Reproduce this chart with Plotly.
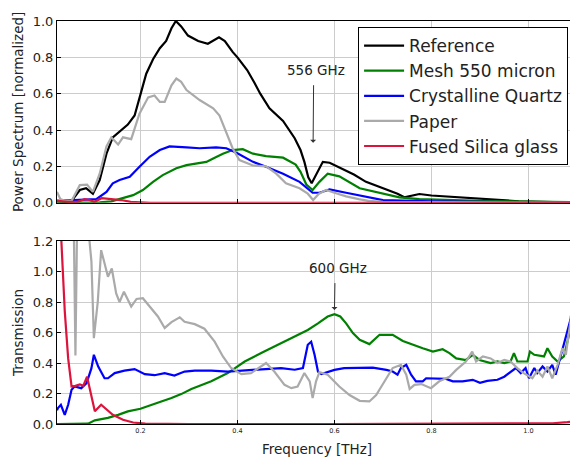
import plotly.graph_objects as go

# ---------------- Top panel: power spectra ----------------
ref_f = [0.028,0.045,0.058,0.075,0.088,0.102,0.116,0.13,0.143,0.157,0.174,0.188,0.198,0.212,0.226,0.24,0.253,0.264,0.273,0.284,0.298,0.319,0.339,0.35,0.362,0.374,0.39,0.40,0.42,0.435,0.447,0.466,0.494,0.518,0.53,0.538,0.546,0.553,0.566,0.576,0.59,0.61,0.64,0.665,0.69,0.713,0.73,0.744,0.76,0.775,0.8,0.85,0.9,0.95,0.98,1.05,1.1]
ref_v = [0.01,0.005,0.01,0.07,0.08,0.05,0.125,0.27,0.36,0.39,0.43,0.48,0.58,0.71,0.79,0.85,0.89,0.96,1.0,0.97,0.92,0.89,0.875,0.89,0.91,0.89,0.83,0.80,0.73,0.66,0.60,0.52,0.45,0.355,0.29,0.225,0.14,0.107,0.17,0.225,0.22,0.195,0.155,0.115,0.09,0.07,0.05,0.03,0.04,0.048,0.04,0.03,0.02,0.012,0.008,0.003,0.0]

mesh_f = [0.028,0.116,0.14,0.164,0.185,0.205,0.226,0.246,0.274,0.295,0.315,0.336,0.35,0.37,0.39,0.411,0.432,0.459,0.494,0.52,0.53,0.542,0.555,0.569,0.586,0.61,0.652,0.693,0.734,0.775,0.9,1.1]
mesh_v = [0.0,0.002,0.008,0.024,0.042,0.07,0.115,0.152,0.19,0.207,0.216,0.225,0.244,0.27,0.29,0.295,0.27,0.257,0.248,0.21,0.17,0.10,0.07,0.115,0.16,0.145,0.08,0.055,0.03,0.02,0.01,0.003]

quartz_f = [0.028,0.075,0.109,0.13,0.143,0.157,0.178,0.198,0.219,0.24,0.26,0.295,0.322,0.356,0.377,0.398,0.432,0.459,0.494,0.528,0.545,0.555,0.569,0.59,0.624,0.665,0.7,0.8,1.1]
quartz_v = [0.01,0.015,0.02,0.06,0.107,0.125,0.143,0.198,0.253,0.29,0.31,0.305,0.30,0.305,0.30,0.275,0.225,0.198,0.16,0.115,0.08,0.055,0.055,0.073,0.055,0.033,0.015,0.008,0.0]

paper_f = [0.028,0.035,0.045,0.058,0.075,0.09,0.102,0.116,0.13,0.14,0.154,0.164,0.181,0.198,0.216,0.229,0.24,0.25,0.264,0.274,0.284,0.295,0.322,0.35,0.363,0.377,0.39,0.404,0.432,0.459,0.48,0.5,0.528,0.545,0.556,0.568,0.583,0.60,0.624,0.65,0.67,0.7,0.8,1.1]
paper_v = [0.06,0.02,0.01,0.01,0.097,0.10,0.06,0.16,0.31,0.36,0.32,0.36,0.35,0.49,0.58,0.59,0.555,0.555,0.646,0.683,0.665,0.62,0.565,0.52,0.48,0.39,0.30,0.235,0.205,0.20,0.16,0.107,0.08,0.05,0.015,0.05,0.07,0.055,0.035,0.02,0.01,0.005,0.003,0.0]

silica_f = [0.028,0.05,0.07,0.085,0.095,0.105,0.12,0.14,0.16,0.18,0.22,1.1]
silica_v = [0.01,0.005,0.005,0.02,0.015,0.005,0.025,0.02,0.015,0.005,0.0,0.0]

# ---------------- Bottom panel: transmission ----------------
meshT_f = [0.028,0.092,0.106,0.133,0.154,0.174,0.2,0.222,0.243,0.264,0.284,0.305,0.332,0.346,0.38,0.415,0.449,0.483,0.518,0.545,0.566,0.586,0.6,0.612,0.624,0.638,0.652,0.672,0.693,0.72,0.741,0.761,0.782,0.803,0.823,0.837,0.851,0.871,0.885,0.899,0.922,0.936,0.95,0.963,0.97,0.977,0.998,1.003,1.012,1.032,1.039,1.049,1.06,1.073,1.083,1.087,1.09,1.096,1.1]
meshT_v = [0.0,0.002,0.024,0.04,0.06,0.083,0.1,0.126,0.148,0.17,0.196,0.23,0.26,0.28,0.334,0.41,0.465,0.52,0.574,0.617,0.66,0.705,0.72,0.705,0.66,0.596,0.552,0.524,0.585,0.585,0.545,0.52,0.497,0.475,0.49,0.465,0.43,0.42,0.454,0.42,0.40,0.41,0.40,0.41,0.465,0.41,0.41,0.475,0.454,0.443,0.497,0.443,0.41,0.443,0.585,0.63,0.41,0.40,0.45]

quartzT_f = [0.028,0.03,0.036,0.044,0.051,0.058,0.064,0.078,0.089,0.099,0.104,0.113,0.126,0.133,0.147,0.167,0.188,0.209,0.229,0.25,0.27,0.291,0.312,0.346,0.38,0.415,0.449,0.49,0.518,0.535,0.545,0.552,0.559,0.566,0.573,0.6,0.62,0.652,0.679,0.707,0.72,0.73,0.737,0.748,0.758,0.768,0.782,0.789,0.81,0.83,0.844,0.864,0.885,0.9,0.915,0.936,0.95,0.963,0.974,0.984,0.994,1.001,1.012,1.018,1.029,1.039,1.049,1.056,1.063,1.073,1.08,1.087,1.094,1.099,1.1]
quartzT_v = [0.09,0.105,0.126,0.06,0.126,0.225,0.246,0.235,0.268,0.366,0.454,0.377,0.30,0.30,0.334,0.35,0.36,0.327,0.32,0.334,0.318,0.344,0.35,0.35,0.344,0.35,0.36,0.367,0.356,0.367,0.52,0.54,0.454,0.344,0.327,0.355,0.367,0.37,0.37,0.355,0.344,0.323,0.367,0.388,0.323,0.279,0.28,0.30,0.30,0.296,0.28,0.28,0.29,0.27,0.283,0.29,0.31,0.344,0.367,0.334,0.367,0.30,0.367,0.334,0.377,0.344,0.388,0.323,0.41,0.52,0.606,0.69,0.91,1.17,1.3]

paperT_f = [0.028,0.06,0.063,0.066,0.069,0.072,0.09,0.095,0.099,0.104,0.112,0.119,0.126,0.133,0.141,0.15,0.157,0.166,0.181,0.192,0.205,0.222,0.236,0.25,0.264,0.281,0.291,0.312,0.332,0.353,0.37,0.387,0.408,0.428,0.449,0.459,0.476,0.497,0.511,0.524,0.538,0.549,0.555,0.562,0.569,0.586,0.61,0.631,0.652,0.672,0.686,0.707,0.72,0.737,0.748,0.755,0.765,0.779,0.799,0.816,0.837,0.851,0.871,0.884,0.892,0.906,0.922,0.936,0.95,0.963,0.977,0.99,1.008,1.018,1.029,1.039,1.049,1.06,1.07,1.077,1.087,1.094,1.1]
paperT_v = [1.6,1.6,1.2,0.45,1.2,1.6,1.6,1.2,1.065,0.563,0.80,1.14,1.054,0.966,1.02,0.857,0.80,0.868,0.77,0.82,0.825,0.76,0.705,0.63,0.668,0.70,0.67,0.655,0.625,0.54,0.443,0.367,0.327,0.334,0.377,0.40,0.344,0.257,0.235,0.246,0.334,0.28,0.17,0.28,0.34,0.323,0.246,0.19,0.152,0.148,0.19,0.30,0.367,0.388,0.323,0.23,0.257,0.262,0.235,0.28,0.31,0.355,0.41,0.475,0.41,0.443,0.43,0.40,0.42,0.41,0.367,0.334,0.30,0.35,0.31,0.377,0.30,0.388,0.497,0.454,0.683,0.41,0.63]

silicaT_f = [0.028,0.037,0.044,0.051,0.058,0.066,0.075,0.082,0.09,0.106,0.119,0.13,0.143,0.164,0.185,0.21,0.3,0.6,0.9,1.05,1.08,1.1]
silicaT_v = [1.6,1.2,0.74,0.43,0.246,0.25,0.26,0.25,0.31,0.083,0.126,0.094,0.06,0.028,0.01,0.002,0.0,0.0,0.002,0.005,0.012,0.02]

freq_ticks = [0.2, 0.4, 0.6, 0.8, 1.0]
freq_tick_labels = ["0.2", "0.4", "0.6", "0.8", "1.0"]

names = ["Reference", "Mesh 550 micron", "Crystalline Quartz", "Paper", "Fused Silica glass"]
colors = ["#000000", "#008000", "#0000ff", "#aaaaaa", "#dc143c"]

top = [(ref_f, ref_v), (mesh_f, mesh_v), (quartz_f, quartz_v), (paper_f, paper_v), (silica_f, silica_v)]
bottom = [(meshT_f, meshT_v), (quartzT_f, quartzT_v), (paperT_f, paperT_v), (silicaT_f, silicaT_v)]

fig = go.Figure()
for (fx, fy), n, c in zip(top, names, colors):
    fig.add_trace(go.Scatter(x=fx, y=fy, mode="lines", name=n,
                             line=dict(color=c, width=2.2), xaxis="x", yaxis="y"))
for (fx, fy), n, c in zip(bottom, names[1:], colors[1:]):
    fig.add_trace(go.Scatter(x=fx, y=fy, mode="lines", name=n, showlegend=False,
                             line=dict(color=c, width=2.2), xaxis="x2", yaxis="y2"))

FONT = "DejaVu Sans"
grid = "#cccccc"
common_x = dict(range=[0.028, 1.1], tickvals=freq_ticks, ticktext=freq_tick_labels,
                showgrid=True, gridcolor=grid, gridwidth=1, zeroline=False,
                showline=True, linecolor="black", linewidth=1, mirror=True,
                ticks="inside", ticklen=4, tickcolor="black")
common_y = dict(showgrid=True, gridcolor=grid, gridwidth=1, zeroline=False,
                showline=True, linecolor="black", linewidth=1, mirror=True,
                ticks="inside", ticklen=4, tickcolor="black", dtick=0.2,
                tickformat=".1f", tickfont=dict(size=13, color="#222", family=FONT))

# The page body has an 8px margin, so the figure is sized to fill the rest of the window.
fig.update_layout(
    width=570, height=449,
    margin=dict(l=49, r=1, t=13, b=33),
    paper_bgcolor="white", plot_bgcolor="white",
    font=dict(family=FONT, color="#222"),
    xaxis=dict(common_x, anchor="y", domain=[0, 1], showticklabels=False),
    xaxis2=dict(common_x, anchor="y2", domain=[0, 1], matches="x",
                tickfont=dict(size=6.5, color="#222", family=FONT),
                title=dict(text="Frequency [THz]", font=dict(size=13.5, family=FONT, color="#222"), standoff=10)),
    yaxis=dict(common_y, domain=[0.549, 1], range=[0, 1.0],
               title=dict(text="Power Spectrum [normalized]", font=dict(size=13.5, family=FONT, color="#222"), standoff=5)),
    yaxis2=dict(common_y, domain=[0, 0.454], range=[0, 1.2],
                title=dict(text="Transmission", font=dict(size=13.5, family=FONT, color="#222"), standoff=5)),
    legend=dict(x=0.579, y=0.985, xanchor="left", yanchor="top",
                bgcolor="white", bordercolor="black", borderwidth=1,
                font=dict(size=17, family=FONT, color="#222"), itemwidth=40),
    showlegend=True,
)

# annotations: 556 GHz (top), 600 GHz (bottom)
fig.add_annotation(x=0.556, y=0.33, ax=0.557, ay=0.655, xref="x", yref="y", axref="x", ayref="y",
                   text="", showarrow=True, arrowhead=1, arrowsize=1, arrowwidth=1, arrowcolor="#333")
fig.add_annotation(x=0.561, y=0.73, xref="x", yref="y", text="556 GHz", showarrow=False,
                   font=dict(size=13.5, family=FONT, color="#222"))
fig.add_annotation(x=0.600, y=0.748, ax=0.601, ay=0.934, xref="x2", yref="y2", axref="x2", ayref="y2",
                   text="", showarrow=True, arrowhead=1, arrowsize=1, arrowwidth=1, arrowcolor="#333")
fig.add_annotation(x=0.607, y=1.021, xref="x2", yref="y2", text="600 GHz", showarrow=False,
                   font=dict(size=13.5, family=FONT, color="#222"))

fig.write_html("out.html")
